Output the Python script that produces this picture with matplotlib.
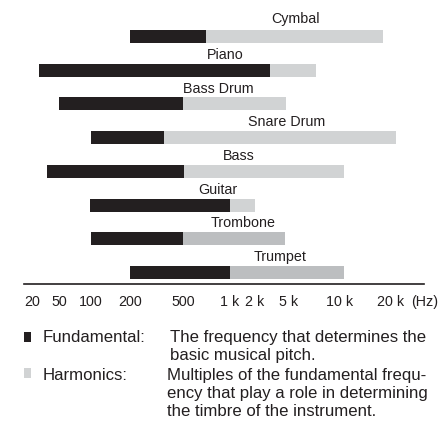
import numpy as np
import matplotlib
matplotlib.use("Agg")
import matplotlib.pyplot as plt
from matplotlib.patches import Rectangle

# ---------- data ----------
instruments = ["Cymbal", "Piano", "Bass Drum", "Snare Drum", "Bass", "Guitar", "Trombone", "Trumpet"]
fund_low = [200, 25, 50, 100, 33, 98, 100, 200]          # Hz
fund_high = [700, 3000, 500, 360, 510, 1000, 500, 1000]   # Hz
harm_high = [18000, 7200, 4600, 21500, 10600, 2000, 4500, 10500]  # Hz

tick_vals = [20, 50, 100, 200, 500, 1000, 2000, 5000, 10000, 20000]
tick_labels = ["20", "50", "100", "200", "500", "1 k", "2 k", "5 k", "10 k", "20 k"]

# ---------- layout (figure pixels) ----------
W, H = 441, 422
BLACK = "#231f20"
GRAYS = ["#d1d3d4"] * 6 + ["#bcbec0"] * 2
FONT = "Liberation Sans"
FS = 10.3     # chart labels / ticks
FS_LEG = 12.1 # legend text

# the printed axis is not a true log scale: pixel anchors for each tick
anchor_hz = [10] + tick_vals + [40000]
anchor_px = [11.6, 32, 59, 91, 130, 183, 230, 255, 289, 340, 391, 442]
la = np.log10(anchor_hz)

def fwd(x):
    x = np.clip(np.asarray(x, dtype=float), 1e-3, None)
    return np.interp(np.log10(x), la, anchor_px)

def inv(p):
    return 10 ** np.interp(np.asarray(p, dtype=float), anchor_px, la)

fig = plt.figure(figsize=(W / 100, H / 100), dpi=100)
ax_l, ax_r, ax_top, ax_bot = 24, 424, 0, 284
ax = fig.add_axes([ax_l / W, 1 - ax_bot / H, (ax_r - ax_l) / W, (ax_bot - ax_top) / H])
ax.set_xscale("function", functions=(fwd, inv))
ax.set_xlim(inv(ax_l), inv(ax_r))

row = 33.7
n = len(instruments)
y = np.arange(n)
ax.set_ylim(7 + 11.5 / row, -36.5 / row)

bh = 13 / row
ax.barh(y, np.array(harm_high) - np.array(fund_high), left=fund_high, height=bh, color=GRAYS, lw=0)
ax.barh(y, np.array(fund_high) - np.array(fund_low), left=fund_low, height=bh, color=BLACK, lw=0)

label_px = [295, 225, 218, 287, 239, 218, 243, 280]
label_gap = [7, 5, 4, 5, 5, 5, 5, 5]
for i, name in enumerate(instruments):
    ax.text(inv(label_px[i]), i - bh / 2 - label_gap[i] / row, name, ha="center", va="baseline",
            fontsize=FS, family=FONT, color=BLACK)

for s in ["top", "left", "right"]:
    ax.spines[s].set_visible(False)
ax.spines["bottom"].set_linewidth(1.2)
ax.spines["bottom"].set_color(BLACK)
ax.set_yticks([])
ax.set_xticks(tick_vals)
ax.set_xticklabels(tick_labels, fontsize=FS, family=FONT, color=BLACK)
ax.xaxis.set_minor_locator(matplotlib.ticker.NullLocator())
ax.tick_params(axis="x", length=0, pad=8)

# (Hz) sits on the same line as the tick labels
fig.canvas.draw()
bb = ax.get_xticklabels()[0].get_window_extent()
fig.text(425 / W, bb.y0 / H, "(Hz)", ha="center", va="bottom", fontsize=FS, family=FONT, color=BLACK)

# ---------- legend ----------
def fx(px):
    return px / W

def fy(py):
    return 1 - py / H

fig.add_artist(Rectangle((fx(23.5), fy(342)), 7.5 / W, 10 / H, transform=fig.transFigure,
                         color=BLACK, lw=0))
fig.add_artist(Rectangle((fx(23.5), fy(378)), 7.5 / W, 10 / H, transform=fig.transFigure,
                         color="#d1d3d4", lw=0))
kw = dict(fontsize=FS_LEG, family=FONT, color=BLACK, va="baseline", ha="left")
fig.text(fx(43), fy(342), "Fundamental:", **kw)
fig.text(fx(170), fy(342), "The frequency that determines the", **kw)
fig.text(fx(170), fy(360), "basic musical pitch.", **kw)
fig.text(fx(43), fy(380), "Harmonics:", **kw)
fig.text(fx(167), fy(380), "Multiples of the fundamental frequ-", **kw)
fig.text(fx(167), fy(398), "ency that play a role in determining", **kw)
fig.text(fx(167), fy(416), "the timbre of the instrument.", **kw)

fig.savefig("out.png", dpi=100)
